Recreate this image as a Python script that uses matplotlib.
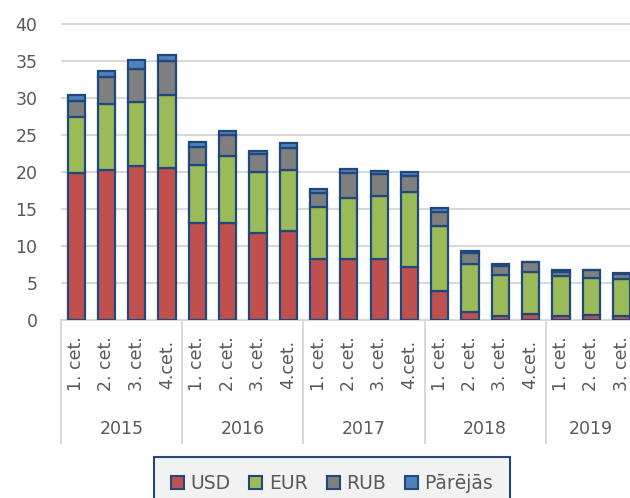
import matplotlib
matplotlib.use("Agg")
import matplotlib.pyplot as plt
from matplotlib.patches import Patch
import matplotlib.transforms as mtransforms

plt.rcParams['font.family'] = ['DejaVu Sans']

quarters = ["1. cet.", "2. cet.", "3. cet.", "4.cet.",
            "1. cet.", "2. cet.", "3. cet.", "4.cet.",
            "1. cet.", "2. cet.", "3. cet.", "4.cet.",
            "1. cet.", "2. cet.", "3. cet.", "4.cet.",
            "1. cet.", "2. cet.", "3. cet."]
years = ["2015", "2016", "2017", "2018", "2019"]
year_sizes = [4, 4, 4, 4, 3]

usd = [19.8, 20.3, 20.8, 20.6, 13.1, 13.1, 11.8, 12.0, 8.3, 8.3, 8.3, 7.2, 3.9, 1.1, 0.6, 0.8, 0.5, 0.7, 0.6]
eur = [7.7, 8.9, 8.6, 9.8, 7.9, 9.1, 8.2, 8.3, 7.0, 8.2, 8.4, 10.1, 8.8, 6.5, 5.5, 5.7, 5.4, 5.0, 4.9]
rub = [2.1, 3.6, 4.5, 4.6, 2.4, 2.8, 2.4, 3.0, 1.8, 3.4, 3.0, 2.2, 1.9, 1.5, 1.2, 1.3, 0.6, 1.0, 0.7]
other = [0.8, 0.9, 1.2, 0.8, 0.6, 0.6, 0.5, 0.6, 0.6, 0.5, 0.4, 0.5, 0.5, 0.2, 0.2, 0.1, 0.2, 0.1, 0.2]

series = [("USD", usd, "#c0504d"), ("EUR", eur, "#9bbb59"),
          ("RUB", rub, "#7f7f7f"), ("Pārējās", other, "#4f81bd")]
edge = "#1f497d"
grid_c = "#d9d9d9"
text_c = "#595959"

W, H = 630, 498
fig = plt.figure(figsize=(W / 100, H / 100), dpi=100)
# axes: left 61px, bottom at y=320px, 30.3px per category, 7.4px per unit
ppu = 7.4
ymax = 40.5
left = 61 / W
bottom = 1 - 320 / H
width = 19 * 30.3 / W
height = ymax * ppu / H
ax = fig.add_axes([left, bottom, width, height])

x = list(range(len(usd)))
base = [0.0] * len(usd)
for name, vals, col in series:
    ax.bar(x, vals, bottom=base, width=0.57, color=col, edgecolor=edge,
           linewidth=1.6, zorder=3)
    base = [b + v for b, v in zip(base, vals)]

ax.set_xlim(-0.5, len(usd) - 0.5)
ax.set_ylim(0, ymax)
ax.set_yticks(range(0, 41, 5))
ax.yaxis.grid(True, color=grid_c, linewidth=1.5, zorder=0)
ax.set_axisbelow(True)
for s in ["top", "right", "left"]:
    ax.spines[s].set_visible(False)
ax.spines["bottom"].set_color(grid_c)
ax.spines["bottom"].set_linewidth(1.5)
ax.tick_params(axis="y", length=0, pad=17, labelsize=12.5, labelcolor=text_c)
ax.set_xticks([])

trans = mtransforms.blended_transform_factory(ax.transData, fig.transFigure)
# quarter labels
for i, q in enumerate(quarters):
    ax.text(i, 1 - 364 / H, q, rotation=90, ha="center", va="center",
            fontsize=12.5, color=text_c, transform=trans, clip_on=False)
# year labels and separators
start = 0
seps = [-0.5]
for yname, n in zip(years, year_sizes):
    ax.text(start + (n - 1) / 2, 1 - 429 / H, yname, ha="center", va="center",
            fontsize=12.5, color=text_c, transform=trans, clip_on=False)
    start += n
    seps.append(start - 0.5)
for sx in seps:
    ax.plot([sx, sx], [1 - 320 / H, 1 - 443 / H], color=grid_c, linewidth=1.5,
            transform=trans, clip_on=False)

handles = [Patch(facecolor=c, edgecolor=edge, linewidth=1.5, label=n) for n, _, c in series]
leg = fig.legend(handles=handles, loc="upper center", ncol=4,
                 bbox_to_anchor=(332 / W, 1 - 457 / H), bbox_transform=fig.transFigure,
                 borderaxespad=0, frameon=True,
                 fancybox=False, fontsize=13.5, handlelength=0.7, handleheight=0.7,
                 handletextpad=0.35, columnspacing=1.0, borderpad=0.9)
fr = leg.get_frame()
fr.set_facecolor("#f2f2f2")
fr.set_edgecolor(edge)
fr.set_linewidth(1.5)
fr.set_alpha(1)
for t in leg.get_texts():
    t.set_color(text_c)

fig.savefig("out.png", dpi=100)
